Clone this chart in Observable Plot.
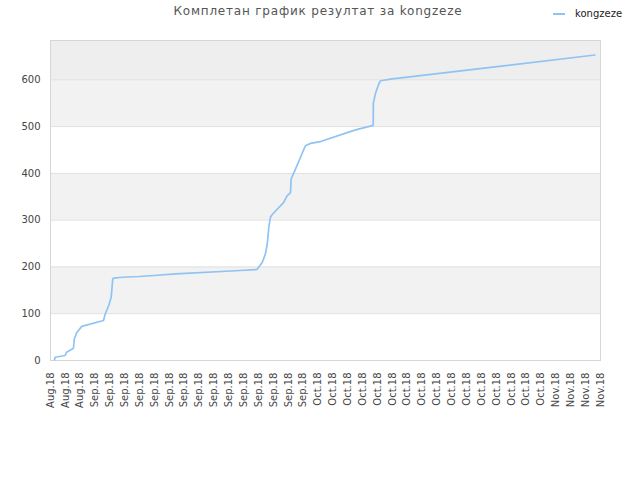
<!DOCTYPE html>
<html><head><meta charset="utf-8">
<script src="https://cdn.jsdelivr.net/npm/d3@7"></script>
<script src="https://cdn.jsdelivr.net/npm/@observablehq/plot@0.6"></script>
<style>
body{margin:0;background:#fff;font-family:"DejaVu Sans",sans-serif;}
#wrap{position:relative;width:640px;height:480px;}
#chart{position:absolute;left:0;top:0;}
#title{position:absolute;left:0;width:636px;top:4px;text-align:center;font-size:12px;color:#555;letter-spacing:0.8px;}
#legend{position:absolute;left:553px;top:8px;font-size:10px;color:#222;display:flex;align-items:center;}
#legend .sw{width:12px;height:0;border-top:2px solid #90c3f3;margin-right:10px;}
</style></head><body>
<div id="wrap"><div id="chart"></div><div id="title"></div><div id="legend"><span class="sw"></span><span id="lname"></span></div></div>
<script>
const chartTitle = "Комплетан график резултат за kongzeze";
const seriesName = "kongzeze";
const dates = [
  "2018-08-26T13:00Z","2018-08-26T15:00Z","2018-08-27T23:00Z","2018-08-28T04:00Z",
  "2018-08-29T02:00Z","2018-08-29T05:00Z","2018-08-29T13:00Z","2018-08-30T05:00Z",
  "2018-09-02T03:00Z","2018-09-02T09:00Z","2018-09-02T20:00Z","2018-09-03T04:00Z",
  "2018-09-03T09:00Z","2018-09-03T12:00Z","2018-09-04T16:00Z","2018-09-06T21:00Z",
  "2018-09-08T22:00Z","2018-09-11T20:00Z","2018-09-20T13:00Z","2018-09-22T19:00Z",
  "2018-09-23T12:00Z","2018-09-23T22:00Z","2018-09-24T04:00Z","2018-09-24T09:00Z",
  "2018-09-24T14:00Z","2018-09-24T20:00Z","2018-09-26T09:00Z","2018-09-26T20:00Z",
  "2018-09-27T07:00Z","2018-09-27T09:00Z","2018-09-27T23:00Z","2018-09-28T15:00Z",
  "2018-09-29T07:00Z","2018-09-29T23:00Z","2018-10-01T08:00Z","2018-10-06T01:00Z",
  "2018-10-08T07:00Z","2018-10-08T10:00Z","2018-10-08T10:30Z","2018-10-08T17:00Z",
  "2018-10-09T04:00Z","2018-10-09T10:00Z","2018-10-10T23:00Z","2018-10-12T18:00Z",
  "2018-11-07T06:00Z"
];
const values = [
  1.5, 7, 10.7, 17.7,
  26, 46, 60, 73,
  85.5, 100, 117.5, 135,
  174.6, 176, 178, 179.5,
  181.7, 185, 192.4, 194.5,
  210, 228, 249, 285,
  306, 312, 338, 352,
  359, 388, 409, 434,
  459, 464, 468, 493,
  502, 503, 550, 570,
  591, 598, 602, 605,
  653
];
const yTicks = [0, 100, 200, 300, 400, 500, 600];
const yMax = 684;
const xStart = "2018-08-26T00:00Z";
const xEnd = "2018-11-08T00:00Z";
const xTickStepDays = 2;

document.getElementById("title").textContent = chartTitle;
document.getElementById("lname").textContent = seriesName;

const x0 = new Date(xStart), x1 = new Date(xEnd);
const xTicks = d3.utcDay.range(x0, d3.utcDay.offset(x1, 1), xTickStepDays);
const data = dates.map((d, i) => ({date: new Date(d), value: values[i]}));
const bands = yTicks.map((t, i) => ({y1: t, y2: i < yTicks.length - 1 ? yTicks[i + 1] : yMax, i}));
const nb = yTicks.length;

const chart = Plot.plot({
  width: 640, height: 480,
  marginTop: 40, marginLeft: 50, marginRight: 40, marginBottom: 120,
  style: {fontFamily: "DejaVu Sans, sans-serif", fontSize: "10px", color: "#444", background: "transparent"},
  x: {type: "utc", domain: [x0, x1], ticks: xTicks, tickFormat: d3.utcFormat("%b.%y"), tickRotate: -90, tickSize: 0, tickPadding: 12, label: null},
  y: {domain: [0, yMax], ticks: yTicks, tickSize: 0, tickPadding: 10, label: null},
  marks: [
    Plot.rectY(bands, {x1: () => x0, x2: () => x1, y1: "y1", y2: "y2",
      fill: d => d.i === nb - 1 ? "#eeeeee" : (d.i % 2 ? "#f2f2f2" : "#ffffff")}),
    Plot.ruleY(yTicks.slice(1), {stroke: "#e0e0e0"}),
    Plot.frame({stroke: "#d6d6d6"}),
    Plot.line(data, {x: "date", y: "value", stroke: "#90c3f3", strokeWidth: 1.7}),
    Plot.axisX({ticks: xTicks, tickFormat: d3.utcFormat("%b.%y"), tickRotate: -90, tickSize: 0, tickPadding: 12, label: null}),
    Plot.axisY({ticks: yTicks, tickSize: 0, tickPadding: 10, label: null})
  ]
});
document.getElementById("chart").appendChild(chart);
</script>
</body></html>
